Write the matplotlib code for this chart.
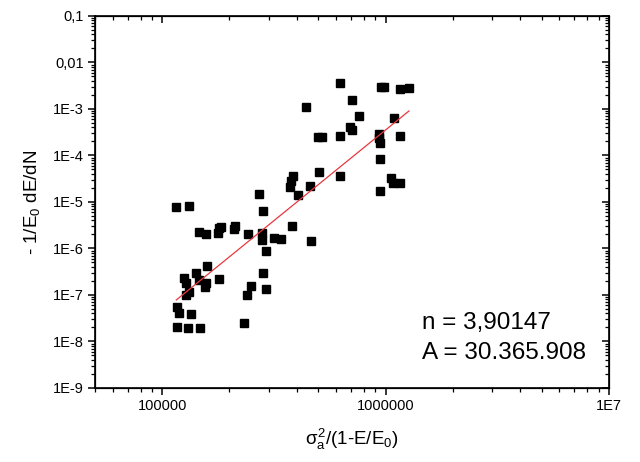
import matplotlib
matplotlib.use("Agg")
import matplotlib.pyplot as plt
import numpy as np
from matplotlib.ticker import LogLocator, FuncFormatter, NullFormatter

plt.rcParams["font.family"] = ["Liberation Sans", "DejaVu Sans"]
plt.rcParams["mathtext.fontset"] = "custom"
plt.rcParams["mathtext.rm"] = "Liberation Sans"
plt.rcParams["mathtext.it"] = "Liberation Sans"

# data
sigma_x = [6.28e5, 9.57e5, 9.80e5, 1.156e6, 1.272e6, 7.06e5, 4.41e5, 7.57e5, 1.089e6,
           4.97e5, 5.20e5, 6.28e5, 6.95e5, 7.06e5, 9.33e5, 9.40e5, 9.35e5, 1.156e6,
           9.40e5, 5.01e5, 6.28e5, 3.84e5, 3.78e5, 3.73e5, 4.58e5, 4.05e5, 1.061e6,
           1.081e6, 1.156e6, 9.46e5, 2.72e5, 1.156e5, 1.312e5, 2.82e5, 1.455e5, 1.57e5,
           1.77e5, 1.80e5, 1.83e5, 2.10e5, 2.12e5, 2.41e5, 2.79e5, 2.80e5, 3.15e5,
           3.41e5, 3.82e5, 4.64e5, 2.92e5, 1.585e5, 1.42e5, 1.255e5, 1.277e5, 1.466e5,
           1.57e5, 1.56e5, 1.80e5, 1.32e5, 1.277e5, 2.82e5, 2.51e5, 2.90e5, 2.39e5,
           1.17e5, 1.19e5, 1.345e5, 1.17e5, 1.298e5, 1.48e5, 2.33e5]
rate_y = [3.57e-3, 2.93e-3, 3.02e-3, 2.65e-3, 2.78e-3, 1.56e-3, 1.12e-3, 7.06e-4, 6.31e-4,
          2.54e-4, 2.54e-4, 2.62e-4, 4.16e-4, 3.53e-4, 2.90e-4, 1.83e-4, 2.38e-4, 2.67e-4,
          8.28e-5, 4.49e-5, 3.62e-5, 3.62e-5, 2.83e-5, 2.13e-5, 2.21e-5, 1.42e-5, 3.24e-5,
          2.60e-5, 2.52e-5, 1.75e-5, 1.49e-5, 7.80e-6, 8.20e-6, 6.50e-6, 2.30e-6, 2.02e-6,
          2.12e-6, 2.72e-6, 2.94e-6, 2.59e-6, 3.05e-6, 2.02e-6, 2.12e-6, 1.50e-6, 1.71e-6,
          1.58e-6, 3.09e-6, 1.47e-6, 8.97e-7, 4.21e-7, 2.93e-7, 2.29e-7, 1.79e-7, 2.10e-7,
          1.79e-7, 1.51e-7, 2.21e-7, 1.18e-7, 1.0e-7, 2.93e-7, 1.56e-7, 1.35e-7, 1.0e-7,
          5.60e-8, 4.04e-8, 3.90e-8, 2.08e-8, 1.92e-8, 1.98e-8, 2.54e-8]

n_exp = 3.90147
log_c = -26.86  # intercept of the fitted power law
fit_text = ["n = 3,90147", "A = 30.365.908"]

y_labels = {-1: "0,1", -2: "0,01", -3: "1E-3", -4: "1E-4", -5: "1E-5",
            -6: "1E-6", -7: "1E-7", -8: "1E-8", -9: "1E-9"}
x_labels = {5: "100000", 6: "1000000", 7: "1E7"}

fig = plt.figure(figsize=(6.4, 4.62), dpi=100)
ax = fig.add_axes([0.1484, 0.1602, 0.8031, 0.8052])

ax.set_xscale("log")
ax.set_yscale("log")
ax.set_xlim(5e4, 1e7)
ax.set_ylim(1e-9, 0.1)

ax.plot(sigma_x, rate_y, ls="none", marker="s", ms=6.2, color="black", zorder=3)

xf = np.array([min(sigma_x), max(sigma_x)])
ax.plot(xf, 10 ** (log_c + n_exp * np.log10(xf)), color="#e8383d", lw=0.9, zorder=4)

ax.text(422 / 640, 1 - 323 / 462, fit_text[0], transform=fig.transFigure,
        fontsize=17.5, va="center")
ax.text(422 / 640, 1 - 353 / 462, fit_text[1], transform=fig.transFigure,
        fontsize=17.5, va="center")


def fmt_y(v, pos):
    return y_labels.get(int(round(np.log10(v))), "")


def fmt_x(v, pos):
    return x_labels.get(int(round(np.log10(v))), "")


for axis in (ax.xaxis, ax.yaxis):
    axis.set_major_locator(LogLocator(base=10, numticks=20))
    axis.set_minor_locator(LogLocator(base=10, subs=np.arange(2, 10), numticks=20))
    axis.set_minor_formatter(NullFormatter())
ax.yaxis.set_major_formatter(FuncFormatter(fmt_y))
ax.xaxis.set_major_formatter(FuncFormatter(fmt_x))

ax.tick_params(which="major", direction="out", length=5, width=1.1, labelsize=10.5, pad=3)
ax.tick_params(which="minor", direction="out", length=3, width=0.9)
for s in ax.spines.values():
    s.set_linewidth(1.2)

# mirrored ticks on top and right, pointing in
top = ax.twiny()
top.set_xscale("log")
top.set_xlim(ax.get_xlim())
right = ax.twinx()
right.set_yscale("log")
right.set_ylim(ax.get_ylim())
for a, axis in ((top, top.xaxis), (right, right.yaxis)):
    axis.set_major_locator(LogLocator(base=10, numticks=20))
    axis.set_minor_locator(LogLocator(base=10, subs=np.arange(2, 10), numticks=20))
    axis.set_major_formatter(NullFormatter())
    axis.set_minor_formatter(NullFormatter())
    a.tick_params(which="major", direction="in", length=5, width=1.1)
    a.tick_params(which="minor", direction="in", length=3, width=0.9)
right.xaxis.set_visible(False)
top.yaxis.set_visible(False)

ax.set_ylabel(r"- 1/E$_0$ dE/dN", fontsize=13.5, labelpad=8)
ax.set_xlabel(r"$\sigma_a^2$/(1-E/E$_0$)", fontsize=13.5, labelpad=10)

fig.savefig("out.png", dpi=100)
